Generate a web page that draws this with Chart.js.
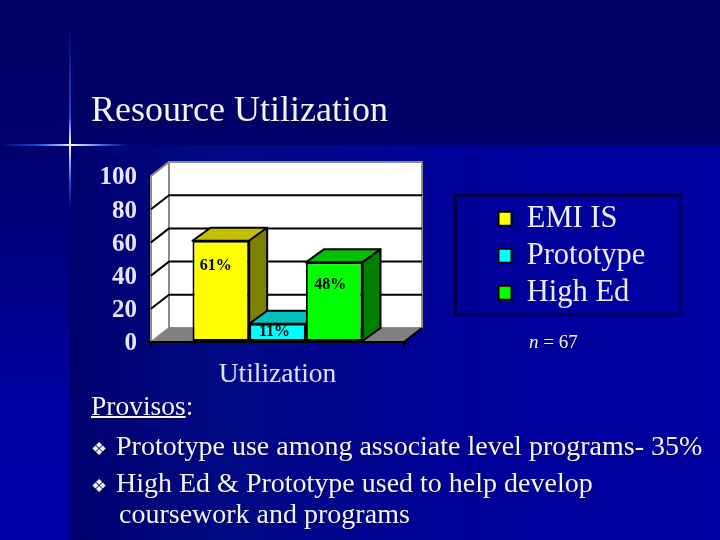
<!DOCTYPE html>
<html>
<head>
<meta charset="utf-8">
<title>Resource Utilization</title>
<script src="https://cdn.jsdelivr.net/npm/chart.js@4/dist/chart.umd.min.js"></script>
<style>
html, body { margin: 0; padding: 0; }
#slide {
    position: relative; width: 720px; height: 540px; overflow: hidden;
    font-family: "Liberation Serif", serif; color: #f4f4ff;
    background: linear-gradient(to right, #00006e 70px, #000a84 220px, #00009a 480px, #0000a2 720px);
}
#leftCol { position: absolute; left: 0; top: 0; width: 70px; height: 540px;
    background: linear-gradient(to bottom, #000064 0, #00006c 130px, #00007e 240px, #0000a4 420px, #0000aa 540px); }
#topBand { position: absolute; left: 70px; top: 0; width: 650px; height: 145px;
    background: linear-gradient(to bottom, #000066 0, #000068 140px, #00006c 145px); }
#flareH { position: absolute; left: 0; top: 144px; width: 128px; height: 2px;
    background: linear-gradient(to right, rgba(30,80,220,0), #1c50d8 30%, #9db8f8 48%, #fff 55%, #9db8f8 68%, #1c50d8 85%, rgba(30,80,220,0)); }
#flareV { position: absolute; left: 69px; top: 25px; width: 2px; height: 185px;
    background: linear-gradient(to bottom, rgba(30,80,220,0), #1c50d8 50%, #9db8f8 58%, #fff 65%, #9db8f8 72%, #1c50d8 85%, rgba(30,80,220,0)); }
canvas { position: absolute; left: 0; top: 0; }
.txt { position: absolute; white-space: nowrap; line-height: 1; text-shadow: 1px 1px 1px #000040; }
#title { left: 91px; top: 91px; font-size: 36px; }
#n { left: 529px; top: 332px; font-size: 19px; }
.body { font-size: 28px; }
.bullet { font-family: "DejaVu Sans"; font-size: 18px; left: 91px; }
u { text-decoration-thickness: 2px; }
</style>
</head>
<body>
<div id="slide">
    <div id="leftCol"></div>
    <div id="topBand"></div>
    <div id="flareV"></div>
    <div id="flareH"></div>
    <canvas id="chart" width="720" height="540"></canvas>
    <div class="txt" id="title">Resource Utilization</div>
    <div class="txt" id="n"><i>n</i> = 67</div>
    <div class="txt body" style="left:91px;top:392px;font-size:27.5px"><u>Provisos</u>:</div>
    <div class="txt bullet" style="top:440px">&#x2756;</div>
    <div class="txt body" style="left:116px;top:432px">Prototype use among associate level programs- 35%</div>
    <div class="txt bullet" style="top:477px">&#x2756;</div>
    <div class="txt body" style="left:116px;top:469px">High Ed &amp; Prototype used to help develop</div>
    <div class="txt body" style="left:119px;top:500px">coursework and programs</div>
</div>
<script>
// data
const categories = ['Utilization'];
const seriesNames = ['EMI IS', 'Prototype', 'High Ed'];
const emiIsValues = [61];
const prototypeValues = [11];
const highEdValues = [48];
const yTicks = [0, 20, 40, 60, 80, 100];

// colours: front, top, side
const frontColors = ['#ffff00', '#00ffff', '#00ff00'];
const topColors = ['#c4c000', '#00c0c0', '#00c000'];
const sideColors = ['#808000', '#008080', '#008000'];

const SERIF = '"Liberation Serif", serif';
const wallDepth = { x: 18, y: -14 };
const barDepth = { x: 18, y: -13 };
// hand placed value labels, offset from the top centre of each bar
const labelOffsets = [{ x: -5, y: 25 }, { x: -3, y: 8 }, { x: -4, y: 23 }];

function poly(ctx, pts, fill, stroke, lw) {
    ctx.beginPath();
    pts.forEach((p, i) => i ? ctx.lineTo(p[0], p[1]) : ctx.moveTo(p[0], p[1]));
    ctx.closePath();
    if (fill) { ctx.fillStyle = fill; ctx.fill(); }
    if (stroke) { ctx.strokeStyle = stroke; ctx.lineWidth = lw; ctx.stroke(); }
}

// walls, floor and depth faces of the bars
const box3d = {
    id: 'box3d',
    beforeDatasetDraw() { return false; },
    beforeDatasetsDraw(chart) {
        const ctx = chart.ctx, a = chart.chartArea, y = chart.scales.y;
        const dx = wallDepth.x, dy = wallDepth.y;
        ctx.save();
        ctx.lineJoin = 'round';
        poly(ctx, [[a.left, a.top], [a.left + dx, a.top + dy], [a.left + dx, a.bottom + dy], [a.left, a.bottom]], '#fff', '#8c8c8c', 2);
        poly(ctx, [[a.left + dx, a.top + dy], [a.right + dx, a.top + dy], [a.right + dx, a.bottom + dy], [a.left + dx, a.bottom + dy]], '#fff', '#8c8c8c', 2);
        poly(ctx, [[a.left, a.bottom], [a.left + dx, a.bottom + dy], [a.right + dx, a.bottom + dy], [a.right, a.bottom]], '#808080');
        ctx.strokeStyle = '#000';
        ctx.lineWidth = 2;
        yTicks.forEach(t => {
            if (t === 0 || t === 100) return;
            const py = y.getPixelForValue(t);
            ctx.beginPath();
            ctx.moveTo(a.left, py);
            ctx.lineTo(a.left + dx, py + dy);
            ctx.lineTo(a.right + dx, py + dy);
            ctx.stroke();
        });
        ctx.beginPath();
        ctx.moveTo(a.left - 4, a.bottom);
        ctx.lineTo(a.right, a.bottom);
        ctx.lineTo(a.right + dx, a.bottom + dy);
        ctx.stroke();

        // left to right so each bar covers the side of the previous one
        chart.data.datasets.forEach((ds, i) => {
            const bar = chart.getDatasetMeta(i).data[0];
            const l = bar.x - bar.width / 2, r = bar.x + bar.width / 2, t = bar.y, b = bar.base;
            const bx = barDepth.x, by = barDepth.y;
            poly(ctx, [[l, t], [l + bx, t + by], [r + bx, t + by], [r, t]], topColors[i], '#000', 2);
            poly(ctx, [[r, t], [r + bx, t + by], [r + bx, b + by], [r, b]], sideColors[i], '#000', 2);
            bar.draw(ctx);
        });
        ctx.restore();
    },
    afterDatasetsDraw(chart) {
        const ctx = chart.ctx;
        ctx.save();
        ctx.font = 'bold 16px ' + SERIF;
        ctx.fillStyle = '#000';
        ctx.textAlign = 'center';
        ctx.textBaseline = 'middle';
        chart.data.datasets.forEach((ds, i) => {
            const bar = chart.getDatasetMeta(i).data[0];
            ctx.fillText(ds.data[0] + '%', bar.x + labelOffsets[i].x, bar.y + labelOffsets[i].y);
        });
        ctx.restore();
    },
    beforeDraw(chart) {
        // legend sits away from the plot in its own frame
        const lg = chart.legend;
        lg.left = 492; lg.right = 681; lg.top = 197; lg.bottom = 316;
        lg.width = lg.right - lg.left; lg.height = lg.bottom - lg.top;
    },
    afterDraw(chart) {
        const ctx = chart.ctx;
        ctx.save();
        ctx.strokeStyle = '#00004a';
        ctx.lineWidth = 3;
        ctx.strokeRect(455.5, 195.5, 225, 119);
        ctx.restore();
    }
};

const seriesValues = [emiIsValues, prototypeValues, highEdValues];

new Chart(document.getElementById('chart'), {
    type: 'bar',
    data: {
        labels: categories,
        datasets: seriesNames.map((name, i) => ({
            label: name,
            data: seriesValues[i],
            backgroundColor: frontColors[i],
            borderColor: '#000',
            borderWidth: 2,
            borderSkipped: false,
            barPercentage: 1,
            categoryPercentage: 0.672
        }))
    },
    options: {
        responsive: false,
        animation: false,
        devicePixelRatio: 1,
        layout: { padding: { left: 0, right: 316, top: 176, bottom: 0 } },
        plugins: {
            tooltip: { enabled: false },
            legend: {
                position: 'chartArea',
                align: 'start',
                labels: {
                    color: '#eeeeff',
                    font: { family: SERIF, size: 30.5 },
                    boxWidth: 13,
                    boxHeight: 14,
                    padding: 6.5
                }
            }
        },
        scales: {
            x: {
                afterFit(s) { s.height = 198; },
                border: { display: false },
                grid: { drawOnChartArea: false, color: '#000', lineWidth: 2, tickLength: 5 },
                ticks: { color: '#dfe0ff', font: { family: SERIF, size: 27.5 }, padding: 11 }
            },
            y: {
                min: yTicks[0],
                max: yTicks[yTicks.length - 1],
                afterFit(s) { s.width = 151; },
                border: { display: false },
                grid: { drawOnChartArea: false, color: '#000', lineWidth: 2, tickLength: 4 },
                ticks: {
                    stepSize: yTicks[1] - yTicks[0],
                    color: '#e6e6ff',
                    padding: 10,
                    labelOffset: 2,
                    font: { family: SERIF, size: 25, weight: 'bold' }
                }
            }
        }
    },
    plugins: [box3d]
});
</script>
</body>
</html>
